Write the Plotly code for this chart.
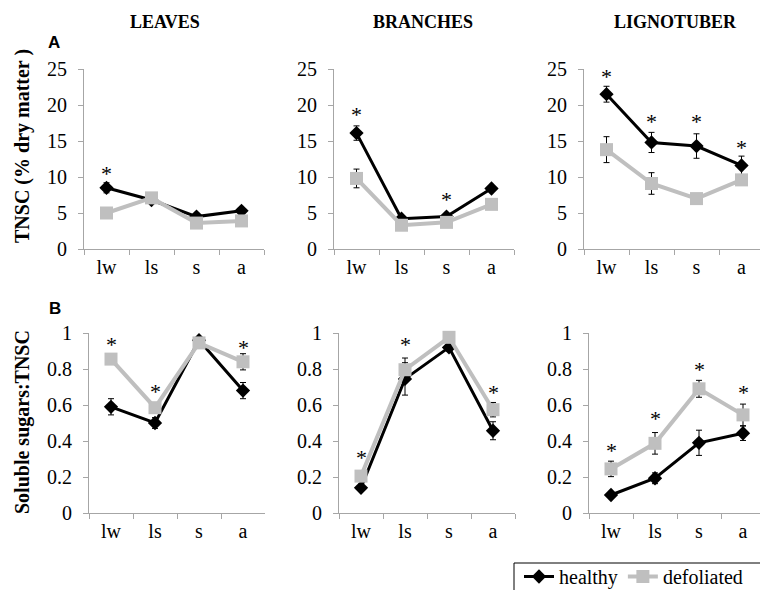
import plotly.graph_objects as go

# ---------------- data ----------------
categories = ['lw', 'ls', 's', 'a']
panel_titles = ['LEAVES', 'BRANCHES', 'LIGNOTUBER']
series_names = ['healthy', 'defoliated']

# Row A: TNSC (% dry matter)
leaves_tnsc_healthy = [8.5, 6.8, 4.5, 5.3]
leaves_tnsc_healthy_err = [0.7, 0.4, 0.3, 0.3]
leaves_tnsc_defol = [5.0, 7.1, 3.6, 3.9]
leaves_tnsc_defol_err = [0.3, 0.4, 0.2, 0.2]
leaves_tnsc_stars = [11.0, None, None, None]

branches_tnsc_healthy = [16.1, 4.2, 4.5, 8.4]
branches_tnsc_healthy_err = [1.0, 0.3, 0.3, 0.4]
branches_tnsc_defol = [9.8, 3.3, 3.7, 6.2]
branches_tnsc_defol_err = [1.3, 0.3, 0.3, 0.3]
branches_tnsc_stars = [19.3, None, 7.4, None]

ligno_tnsc_healthy = [21.5, 14.8, 14.3, 11.6]
ligno_tnsc_healthy_err = [1.1, 1.4, 1.7, 1.3]
ligno_tnsc_defol = [13.8, 9.1, 7.0, 9.6]
ligno_tnsc_defol_err = [1.8, 1.5, 0.4, 0.5]
ligno_tnsc_stars = [24.5, 18.3, 18.3, 14.6]

# Row B: Soluble sugars:TNSC
leaves_ratio_healthy = [0.59, 0.50, 0.96, 0.68]
leaves_ratio_healthy_err = [0.045, 0.03, 0.02, 0.045]
leaves_ratio_defol = [0.855, 0.585, 0.945, 0.84]
leaves_ratio_defol_err = [0.02, 0.02, 0.02, 0.045]
leaves_ratio_stars = [0.96, 0.695, 1.06, 0.94]

branches_ratio_healthy = [0.14, 0.745, 0.92, 0.457]
branches_ratio_healthy_err = [0.02, 0.09, 0.02, 0.05]
branches_ratio_defol = [0.205, 0.796, 0.976, 0.574]
branches_ratio_defol_err = [0.02, 0.065, 0.02, 0.04]
branches_ratio_stars = [0.33, 0.96, 1.09, 0.69]

ligno_ratio_healthy = [0.10, 0.193, 0.39, 0.443]
ligno_ratio_healthy_err = [0.01, 0.03, 0.07, 0.04]
ligno_ratio_defol = [0.245, 0.387, 0.69, 0.545]
ligno_ratio_defol_err = [0.043, 0.06, 0.047, 0.06]
ligno_ratio_stars = [0.37, 0.55, 0.82, 0.69]

rows = [
    [
        (leaves_tnsc_healthy, leaves_tnsc_healthy_err, leaves_tnsc_defol, leaves_tnsc_defol_err, leaves_tnsc_stars),
        (branches_tnsc_healthy, branches_tnsc_healthy_err, branches_tnsc_defol, branches_tnsc_defol_err, branches_tnsc_stars),
        (ligno_tnsc_healthy, ligno_tnsc_healthy_err, ligno_tnsc_defol, ligno_tnsc_defol_err, ligno_tnsc_stars),
    ],
    [
        (leaves_ratio_healthy, leaves_ratio_healthy_err, leaves_ratio_defol, leaves_ratio_defol_err, leaves_ratio_stars),
        (branches_ratio_healthy, branches_ratio_healthy_err, branches_ratio_defol, branches_ratio_defol_err, branches_ratio_stars),
        (ligno_ratio_healthy, ligno_ratio_healthy_err, ligno_ratio_defol, ligno_ratio_defol_err, ligno_ratio_stars),
    ],
]

# ---------------- layout geometry (pixels) ----------------
W, H = 760, 590
def fx(p):
    return p / W
def fy(p):
    return 1 - p / H

row_x = [[(84, 264), (334, 514), (584, 760)],
         [(89, 265), (339, 515), (589, 760)]]
row_band = [45.0, 44.0]
row_y = [(69, 249), (333, 513)]
y_ranges = [[0, 25], [0, 1]]
y_dticks = [5, 0.2]

SERIF = 'Liberation Serif, Times New Roman, serif'
SANS = 'Liberation Sans, Arial, sans-serif'
AXIS_GRAY = '#a6a6a6'
BLACK = '#000000'
LIGHT = '#bfbfbf'

fig = go.Figure()
layout = dict(
    width=W, height=H,
    margin=dict(l=0, r=0, t=0, b=0, autoexpand=False),
    paper_bgcolor='white', plot_bgcolor='white',
    font=dict(family=SERIF, size=20, color=BLACK),
    showlegend=True,
)
annotations = []

for r in range(2):
    for c in range(3):
        n = r * 3 + c + 1
        xs = '' if n == 1 else str(n)
        healthy, herr, defol, derr, stars = rows[r][c]
        x0, x1 = row_x[r][c]
        width_px = x1 - x0
        xr = [-0.5, -0.5 + width_px / row_band[r]]
        fig.add_trace(go.Scatter(
            x=categories, y=healthy, name=series_names[0],
            mode='lines+markers', xaxis='x' + xs, yaxis='y' + xs,
            line=dict(color=BLACK, width=3),
            marker=dict(symbol='diamond', size=11, color=BLACK),
            error_y=dict(type='data', array=herr, visible=True, color=BLACK, thickness=1, width=3),
            showlegend=(n == 1), legendgroup='h', cliponaxis=False,
        ))
        fig.add_trace(go.Scatter(
            x=categories, y=defol, name=series_names[1],
            mode='lines+markers', xaxis='x' + xs, yaxis='y' + xs,
            line=dict(color=LIGHT, width=4),
            marker=dict(symbol='square', size=13, color=LIGHT),
            error_y=dict(type='data', array=derr, visible=True, color=BLACK, thickness=1, width=3),
            showlegend=(n == 1), legendgroup='d', cliponaxis=False,
        ))
        layout['xaxis' + xs] = dict(
            domain=[fx(x0), fx(x1)], anchor='y' + xs, type='category',
            categoryorder='array', categoryarray=categories,
            range=xr, tickson='boundaries', ticks='outside', ticklen=5,
            tickcolor=AXIS_GRAY, showline=True, linecolor=AXIS_GRAY, linewidth=1,
            showgrid=False, zeroline=False,
            tickfont=dict(family=SERIF, size=20, color=BLACK), fixedrange=True,
        )
        layout['yaxis' + xs] = dict(
            domain=[fy(row_y[r][1]), fy(row_y[r][0])], anchor='x' + xs,
            range=y_ranges[r], dtick=y_dticks[r], tick0=0,
            ticks='outside', ticklen=5, tickcolor=AXIS_GRAY,
            showline=True, linecolor=AXIS_GRAY, linewidth=1,
            showgrid=False, zeroline=False, ticklabelstandoff=7,
            tickfont=dict(family=SERIF, size=20, color=BLACK), fixedrange=True,
        )
        for cat, sv in zip(categories, stars):
            if sv is None:
                continue
            annotations.append(dict(
                x=cat, y=sv, xref='x' + xs, yref='y' + xs, text='*',
                showarrow=False, yshift=-4, xanchor='center', yanchor='middle',
                font=dict(family=SERIF, size=22, color=BLACK),
            ))

def paper_text(text, px, py, font, angle=0):
    return dict(x=fx(px), y=fy(py), xref='paper', yref='paper', text=text,
                xanchor='center', yanchor='middle', textangle=angle,
                showarrow=False, font=font)

# panel titles
for title, cx in zip(panel_titles, [165, 423, 675]):
    annotations.append(paper_text('<b>%s</b>' % title, cx, 22, dict(family=SERIF, size=18, color=BLACK)))
# panel letters
annotations.append(paper_text('<b>A</b>', 54, 43, dict(family=SANS, size=17, color=BLACK)))
annotations.append(paper_text('<b>B</b>', 55, 308, dict(family=SANS, size=17, color=BLACK)))
# y-axis titles
annotations.append(paper_text('<b>TNSC (% dry matter )</b>', 22, 146, dict(family=SERIF, size=20, color=BLACK), -90))
annotations.append(paper_text('<b>Soluble sugars:TNSC</b>', 22, 422, dict(family=SERIF, size=20, color=BLACK), -90))

layout['annotations'] = annotations
# legend frame (extends past the bottom/right edge as in the reference)
layout['shapes'] = [dict(type='rect', xref='paper', yref='paper',
                         x0=fx(514), x1=fx(775), y0=fy(563), y1=fy(610),
                         line=dict(color=BLACK, width=1), fillcolor='white', layer='above')]
layout['legend'] = dict(
    orientation='h', x=fx(519), y=fy(557), xanchor='left', yanchor='top',
    borderwidth=0, bgcolor='rgba(0,0,0,0)',
    font=dict(family=SERIF, size=20, color=BLACK),
)
fig.update_layout(**layout)
fig.write_html('out.html', config={'displayModeBar': False},
               post_script="document.body.style.margin='0';document.body.style.padding='0';document.body.style.overflow='hidden';")
